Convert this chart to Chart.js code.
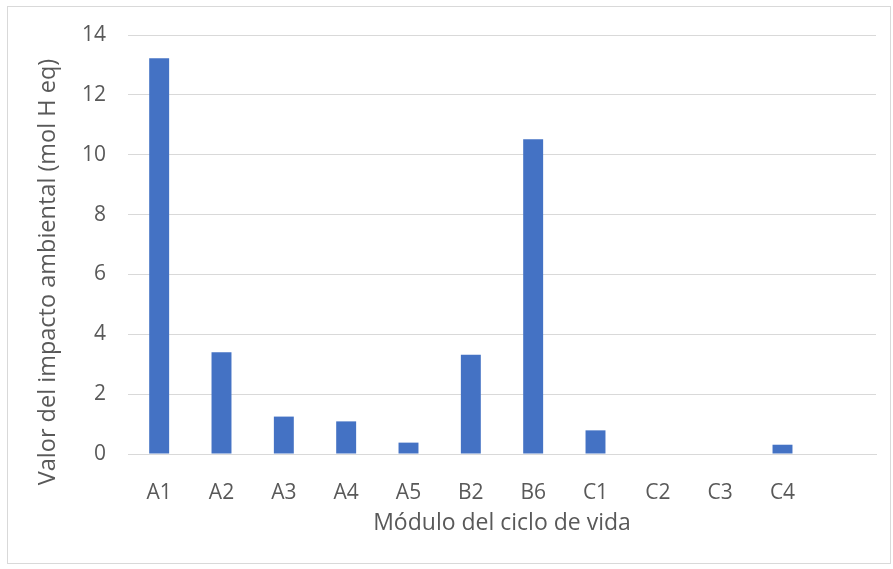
<!DOCTYPE html>
<html>
<head>
<meta charset="utf-8">
<script src="https://cdn.jsdelivr.net/npm/chart.js@4.4.0/dist/chart.umd.min.js"></script>
<style>
  html, body { margin: 0; padding: 0; background: #fff; }
  #wrap { position: absolute; left: 0; top: 0; width: 893px; height: 569px; }
  #frame { position: absolute; left: 7px; top: 6px; width: 884px; height: 558px; border: 1px solid #d9d9d9; box-sizing: border-box; pointer-events: none; }
</style>
</head>
<body>
<div id="wrap">
  <canvas id="impactChart" width="893" height="569"></canvas>
  <div id="frame"></div>
</div>
<script>
// categories (last slot is empty in the original)
const modulos = ["A1", "A2", "A3", "A4", "A5", "B2", "B6", "C1", "C2", "C3", "C4", ""];
const valores = [13.22, 3.4, 1.25, 1.09, 0.38, 3.32, 10.52, 0.79, 0, 0, 0.31, null];
const yTicks = [0, 2, 4, 6, 8, 10, 12, 14];
const yTitle = "Valor del impacto ambiental (mol H eq)";

const fontFamily = "'Open Sans', 'Liberation Sans', sans-serif";

// y title is centred on the whole chart box, not on the plot area, so draw it here
const yTitlePlugin = {
  id: "yTitle",
  afterDraw(chart) {
    const c = chart.ctx;
    c.save();
    c.translate(48, 272);
    c.rotate(-Math.PI / 2);
    c.fillStyle = "#595959";
    c.font = "23.5px " + fontFamily;
    c.textAlign = "center";
    c.textBaseline = "middle";
    c.fillText(yTitle, 0, 0);
    c.restore();
  },
};

document.addEventListener("DOMContentLoaded", function () {
  const ctx = document.getElementById("impactChart").getContext("2d");
  const myChart = new Chart(ctx, {
    type: "bar",
    data: {
      labels: modulos,
      datasets: [
        {
          data: valores,
          backgroundColor: "#4472C4",
          borderWidth: 0,
          barPercentage: 0.32,
          categoryPercentage: 1.0,
        },
      ],
    },
    plugins: [yTitlePlugin],
    options: {
      responsive: false,
      animation: false,
      layout: { padding: { top: 35, right: 17, bottom: 0, left: 0 } },
      plugins: {
        legend: { display: false },
        tooltip: { enabled: false },
      },
      scales: {
        x: {
          grid: { display: false },
          border: { display: true, color: "#d9d9d9", width: 1 },
          ticks: { color: "#595959", font: { family: fontFamily, size: 21 }, padding: 18, maxRotation: 0, autoSkip: false },
          title: {
            display: true,
            text: "Módulo del ciclo de vida",
            color: "#595959",
            font: { family: fontFamily, size: 23 },
            padding: { top: 0, bottom: 32 },
          },
          afterFit: function (scale) { scale.height = 115; },
        },
        y: {
          min: 0,
          max: 14,
          afterBuildTicks: function (scale) {
            scale.ticks = yTicks.map((v) => ({ value: v }));
          },
          grid: { color: "#d9d9d9", lineWidth: 1, drawTicks: false },
          border: { display: false },
          ticks: { color: "#595959", font: { family: fontFamily, size: 21 }, padding: 22 },
          title: { display: false },
          afterFit: function (scale) { scale.width = 128; },
        },
      },
    },
  });
});
</script>
</body>
</html>
